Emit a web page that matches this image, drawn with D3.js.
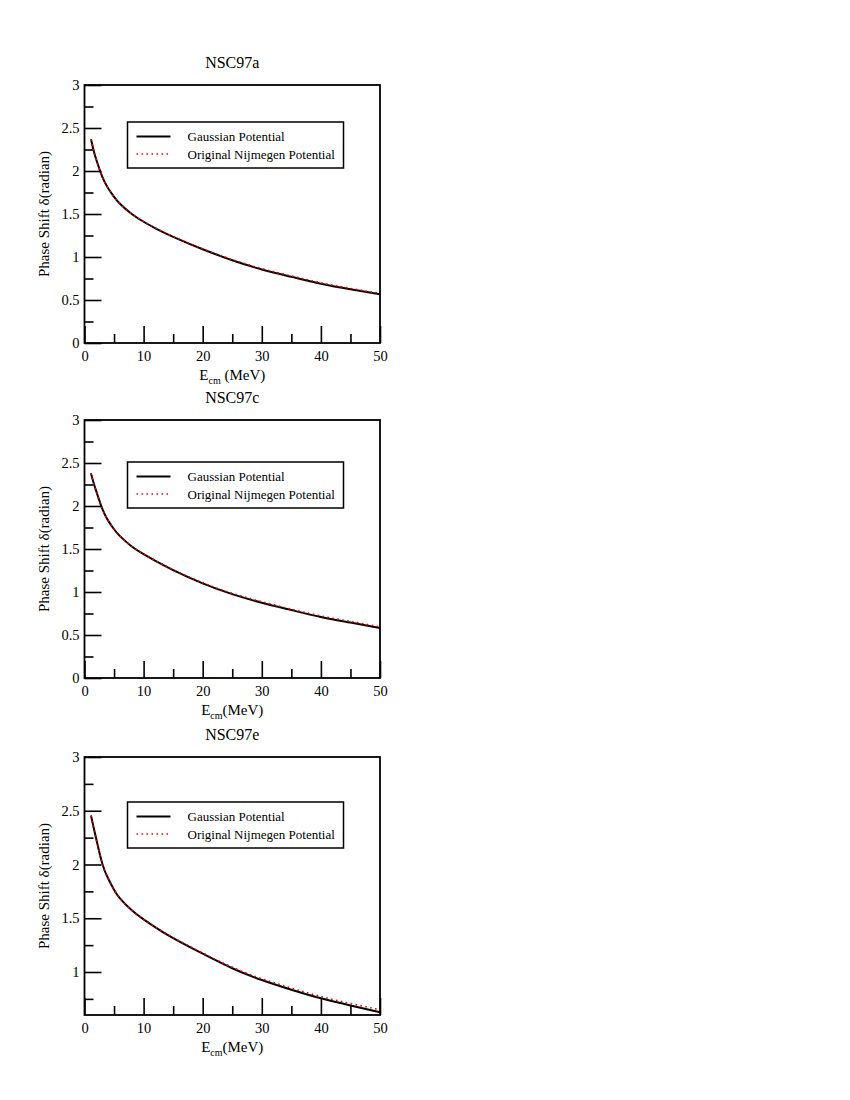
<!DOCTYPE html>
<html>
<head>
<meta charset="utf-8">
<script src="https://cdn.jsdelivr.net/npm/d3@7"></script>
<style>
  body { margin: 0; background: #fff; }
  svg { font-family: "Liberation Serif", "Times New Roman", serif; }
</style>
</head>
<body>
<svg id="chart" width="850" height="1100"></svg>
<script>
const energy = [1.1, 1.5, 2, 3, 4, 5, 6, 8, 10, 12, 15, 20, 25, 30, 35, 40, 45, 50]

// NSC97a
const gaussA = [2.37, 2.25, 2.13, 1.935, 1.80, 1.70, 1.62, 1.50, 1.41, 1.334, 1.235, 1.09, 0.962, 0.855, 0.77, 0.69, 0.625, 0.568]
const nijmA  = [2.37, 2.25, 2.13, 1.935, 1.80, 1.70, 1.62, 1.50, 1.412, 1.337, 1.239, 1.095, 0.97, 0.865, 0.78, 0.70, 0.635, 0.578]
// NSC97c
const gaussC = [2.38, 2.28, 2.17, 1.97, 1.83, 1.73, 1.65, 1.53, 1.44, 1.362, 1.255, 1.10, 0.975, 0.875, 0.79, 0.71, 0.645, 0.58]
const nijmC  = [2.38, 2.28, 2.17, 1.97, 1.83, 1.73, 1.65, 1.53, 1.442, 1.365, 1.26, 1.107, 0.985, 0.887, 0.80, 0.722, 0.658, 0.595]
// NSC97e
const gaussE = [2.455, 2.355, 2.235, 2.01, 1.87, 1.765, 1.685, 1.575, 1.49, 1.415, 1.315, 1.17, 1.035, 0.925, 0.835, 0.755, 0.688, 0.625]
const nijmE  = [2.455, 2.355, 2.235, 2.01, 1.87, 1.765, 1.685, 1.575, 1.49, 1.418, 1.32, 1.177, 1.044, 0.937, 0.85, 0.772, 0.707, 0.648]

const titles = ['NSC97a', 'NSC97c', 'NSC97e']
const yMins = [0, 0, 0.6]
const xLabelSpace = [' ', '', '']
const legendNames = ['Gaussian Potential', 'Original Nijmegen Potential']

const xMajor = [0, 10, 20, 30, 40, 50]
const xMinor = [5, 15, 25, 35, 45]
const yMajor = [0, 0.5, 1, 1.5, 2, 2.5, 3]
const yMinor = [0.25, 0.75, 1.25, 1.75, 2.25, 2.75]

const panels = [
    { top: 85, legendTop: 37, gauss: gaussA, nijm: nijmA },
    { top: 420, legendTop: 42, gauss: gaussC, nijm: nijmC },
    { top: 757, legendTop: 45, gauss: gaussE, nijm: nijmE }
]

const svg = d3.select('#chart')
const left = 84.5, right = 380, h = 258
const w = right - left

const drawPanel = (p, i) => {
    const yMin = yMins[i]
    const g = svg.append('g').attr('transform', `translate(${left},${p.top})`)
    const x = d3.scaleLinear().domain([0, 50]).range([0, w])
    const y = d3.scaleLinear().domain([yMin, 3]).range([h, 0])

    // x axis (ticks point inward)
    g.append('g')
        .attr('transform', `translate(0,${h})`)
        .call(d3.axisBottom(x).tickValues(xMajor).tickSize(-17).tickPadding(8).tickFormat(d => d))
    g.append('g')
        .attr('transform', `translate(0,${h})`)
        .call(d3.axisBottom(x).tickValues(xMinor).tickSize(-9).tickFormat(''))

    // y axis
    g.append('g')
        .call(d3.axisLeft(y).tickValues(yMajor.filter(v => v >= yMin)).tickSize(-17).tickPadding(5).tickFormat(d => d))
    g.append('g')
        .call(d3.axisLeft(y).tickValues(yMinor.filter(v => v >= yMin)).tickSize(-9).tickFormat(''))

    g.selectAll('.domain').remove()
    g.selectAll('.tick line').attr('stroke', '#000').attr('stroke-width', 1.6)
    g.selectAll('.tick text')
        .attr('fill', '#000')
        .style('font-size', '14.5px')
        .style('font-family', '"Liberation Serif", serif')

    // frame
    g.append('rect')
        .attr('width', w).attr('height', h)
        .attr('fill', 'none').attr('stroke', '#000').attr('stroke-width', 1.8)

    // curves
    const line = d3.line()
        .x((d, k) => x(energy[k]))
        .y(d => y(d))
        .curve(d3.curveNatural)

    g.append('path')
        .datum(p.gauss)
        .attr('d', line)
        .attr('fill', 'none')
        .attr('stroke', '#000')
        .attr('stroke-width', 2)

    g.append('path')
        .datum(p.nijm)
        .attr('d', line)
        .attr('fill', 'none')
        .attr('stroke', '#ff0000')
        .attr('stroke-width', 1.6)
        .attr('stroke-dasharray', '1.6,3.4')

    // title
    g.append('text')
        .attr('x', w / 2).attr('y', -17)
        .attr('text-anchor', 'middle')
        .style('font-size', '16px')
        .text(titles[i])

    // x label
    const xl = g.append('text')
        .attr('x', w / 2).attr('y', h + 37)
        .attr('text-anchor', 'middle')
        .style('font-size', '15px')
    xl.append('tspan').text('E')
    xl.append('tspan').attr('dy', 4).style('font-size', '10px').text('cm')
    xl.append('tspan').attr('dy', -4).text(xLabelSpace[i] + '(MeV)')

    // y label
    g.append('text')
        .attr('transform', `translate(-36,${h / 2}) rotate(-90)`)
        .attr('text-anchor', 'middle')
        .style('font-size', '15px')
        .text('Phase Shift δ(radian)')

    // legend
    const lg = g.append('g').attr('transform', `translate(43,${p.legendTop})`)
    lg.append('rect')
        .attr('width', 216).attr('height', 46)
        .attr('fill', '#fff').attr('stroke', '#000').attr('stroke-width', 1.5)
    const styles = [
        { stroke: '#000', dash: null, width: 2 },
        { stroke: '#ff0000', dash: '1.6,3.4', width: 1.6 }
    ]
    legendNames.forEach((name, k) => {
        const ly = 14.5 + k * 17.5
        lg.append('line')
            .attr('x1', 9).attr('x2', 43).attr('y1', ly).attr('y2', ly)
            .attr('stroke', styles[k].stroke)
            .attr('stroke-width', styles[k].width)
            .attr('stroke-dasharray', styles[k].dash)
        lg.append('text')
            .attr('x', 60).attr('y', ly)
            .attr('dominant-baseline', 'central')
            .style('font-size', '13px')
            .text(name)
    })
}

panels.forEach(drawPanel)
</script>
</body>
</html>
